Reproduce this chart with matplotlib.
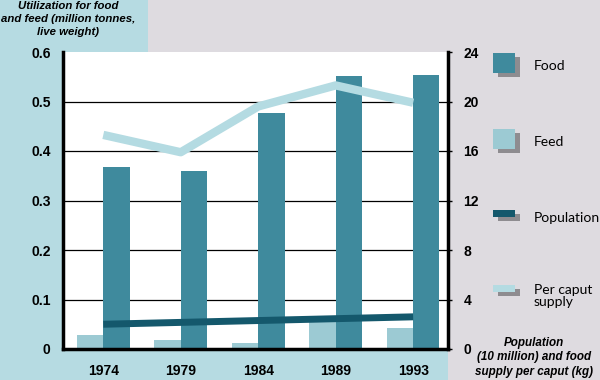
import numpy as np
import matplotlib.pyplot as plt
from matplotlib.patches import Rectangle

years = ["1974", "1979", "1984", "1989", "1993"]
food = [0.368, 0.360, 0.477, 0.552, 0.553]
feed = [0.028, 0.018, 0.012, 0.055, 0.042]
population = [2.0, 2.15, 2.3, 2.45, 2.6]
per_caput = [17.3, 15.9, 19.6, 21.3, 19.9]

C_FOOD = "#3f8a9d"
C_FEED = "#9ccad3"
C_POP = "#14586c"
C_CAPUT = "#b4dbe2"
BG_BLUE = "#b6dbe2"
BG_GREY = "#dedbe0"
SHADOW = "#8e8c90"

plt.rcParams["font.family"] = ["Liberation Sans", "DejaVu Sans"]

W, H = 600, 380
fig = plt.figure(figsize=(6, 3.8), dpi=100, facecolor=BG_GREY)


def px(x, y, w, h):
    # pixel box (top-left origin) -> figure fraction
    return (x / W, 1 - (y + h) / H, w / W, h / H)


for box in [(0, 0, 148, 52), (0, 0, 63, 380), (0, 349, 448, 31)]:
    x0, y0, w, h = px(*box)
    fig.patches.append(Rectangle((x0, y0), w, h, transform=fig.transFigure,
                                 facecolor=BG_BLUE, edgecolor="none", zorder=-5))

ax = fig.add_axes(px(63, 52, 385, 297))
ax.set_zorder(1)
ax.set_facecolor("white")
x = np.arange(len(years))
bw = 0.34
ax.bar(x - bw / 2, feed, bw, color=C_FEED, zorder=2)
ax.bar(x + bw / 2, food, bw, color=C_FOOD, zorder=2)
ax.set_xlim(-0.52, 4.45)
ax.set_ylim(0, 0.6)
ax.set_yticks(np.arange(0, 0.61, 0.1))
ax.set_yticklabels(["0", "0.1", "0.2", "0.3", "0.4", "0.5", "0.6"],
                   fontsize=10, fontweight="bold")
for v in np.arange(0.1, 0.55, 0.1):
    ax.axhline(v, color="black", lw=0.9, zorder=1)
ax.set_xticks(x)
ax.set_xticklabels(years, fontsize=10, fontweight="bold")
ax.tick_params(axis="x", length=0, pad=11)
ax.tick_params(axis="y", length=0, pad=9)
ax.spines["top"].set_visible(False)
ax.spines["right"].set_visible(False)
ax.spines["left"].set_linewidth(2.5)
ax.spines["bottom"].set_linewidth(2.5)

ax2 = ax.twinx()
ax2.set_zorder(2)
ax2.set_ylim(0, 24)
ax2.set_yticks(range(0, 25, 4))
ax2.set_yticklabels([str(v) for v in range(0, 25, 4)], fontsize=10, fontweight="bold")
ax2.tick_params(axis="y", length=3, width=1, pad=8)
ax2.spines["top"].set_visible(False)
ax2.spines["left"].set_visible(False)
ax2.spines["bottom"].set_visible(False)
ax2.spines["right"].set_linewidth(2.5)
ax2.plot(x, per_caput, color=C_CAPUT, lw=6, solid_capstyle="butt", zorder=3)
ax2.plot(x, population, color=C_POP, lw=5, solid_capstyle="butt", zorder=3)

fig.text(68 / W, 1 - 1 / H,
         "Utilization for food\nand feed (million tonnes,\nlive weight)",
         ha="center", va="top", fontsize=8.2, fontweight="bold", style="italic",
         linespacing=1.4)
fig.text(534 / W, 1 - 337 / H,
         "Population\n(10 million) and food\nsupply per caput (kg)",
         ha="center", va="top", fontsize=8.4, fontweight="bold", style="italic",
         linespacing=1.25)

# legend drawn by hand with grey shadows
legend = [
    ("Food", C_FOOD, 53, 20, 66),
    ("Feed", C_FEED, 129, 20, 142),
    ("Population", C_POP, 210, 7, 218),
    ("Per caput\nsupply", C_CAPUT, 285, 7, 296),
]
for label, col, ytop, hgt, ytxt in legend:
    sx, sy, sw, sh = px(498, ytop + 4, 22, hgt)
    fig.patches.append(Rectangle((sx, sy), sw, sh, transform=fig.transFigure,
                                 facecolor=SHADOW, edgecolor="none"))
    bx, by, bw_, bh = px(493, ytop, 22, hgt)
    fig.patches.append(Rectangle((bx, by), bw_, bh, transform=fig.transFigure,
                                 facecolor=col, edgecolor="none"))
    fig.text(534 / W, 1 - ytxt / H, label, ha="left", va="center",
             fontsize=10, family=["Lato", "DejaVu Sans"], linespacing=1.0)

fig.savefig("out.png", dpi=100, facecolor=BG_GREY)
